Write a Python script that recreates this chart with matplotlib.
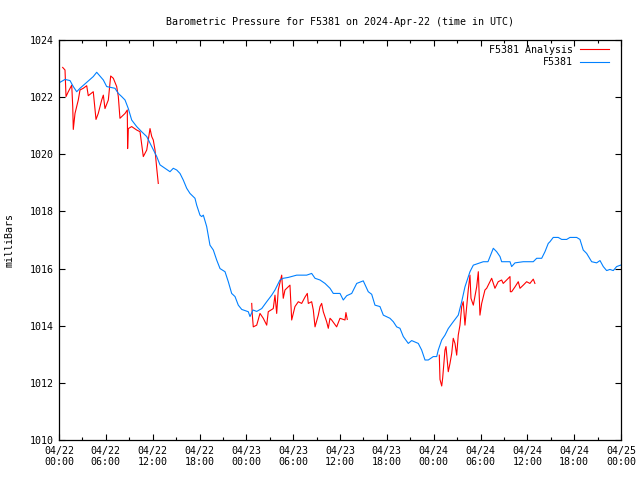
import matplotlib
matplotlib.use('Agg')
import matplotlib.pyplot as plt
import matplotlib.dates as mdates
import pandas as pd

# Start of the chart window (UTC)
t0 = pd.Timestamp('2024-04-22 00:00')

# F5381 station readings: hours since t0, pressure (mb)
station_hours = [0.13, 0.77, 1.41, 1.83, 2.27, 2.69, 3.55, 4.39, 4.83, 5.68, 6.11, 7.17, 7.6, 8.03,
                 8.46, 8.88, 9.31, 9.95, 10.59, 11.24, 11.88, 12.52, 12.94, 13.58, 14.22, 14.64,
                 15.08, 15.5, 15.92, 16.36, 16.78, 17.42, 17.64, 18.06, 18.28, 18.49, 18.92, 19.34,
                 19.77, 20.2, 20.63, 21.27, 21.69, 22.12, 22.55, 22.97, 23.41, 24.25, 24.47, 24.85,
                 25.33, 25.97, 26.61, 27.25, 27.67, 28.31, 28.73, 29.37, 30.45, 31.73, 32.37, 32.8,
                 33.44, 34.08, 34.72, 35.14, 36.0, 36.42, 36.86, 37.5, 38.14, 38.98, 39.62, 40.06,
                 40.48, 41.12, 41.55, 42.4, 42.83, 43.26, 43.68, 44.11, 44.75, 45.18, 46.03, 46.46,
                 46.89, 47.31, 47.95, 48.39, 48.59, 49.03, 49.45, 49.87, 50.51, 51.15, 51.59, 52.01,
                 52.65, 53.08, 53.72, 54.36, 54.96, 55.64, 56.07, 56.5, 56.71, 57.78, 57.99, 58.42,
                 59.48, 60.76, 61.2, 61.84, 62.26, 62.68, 62.9, 63.32, 63.96, 64.4, 65.04, 65.46,
                 66.32, 66.74, 67.16, 67.6, 68.24, 68.88, 69.31, 69.73, 70.16, 70.58, 71.01, 71.44,
                 71.95]
station_mb = [1022.52, 1022.62, 1022.58, 1022.37, 1022.19, 1022.31, 1022.52, 1022.72, 1022.87,
              1022.6, 1022.37, 1022.31, 1022.13, 1022.02, 1021.9, 1021.6, 1021.2, 1020.97, 1020.79,
              1020.62, 1020.27, 1019.92, 1019.63, 1019.51, 1019.39, 1019.51, 1019.45, 1019.33,
              1019.1, 1018.81, 1018.63, 1018.46, 1018.22, 1017.87, 1017.82, 1017.87, 1017.47,
              1016.82, 1016.65, 1016.3, 1016.0, 1015.89, 1015.54, 1015.13, 1015.02, 1014.72,
              1014.57, 1014.49, 1014.32, 1014.55, 1014.5, 1014.6, 1014.84, 1015.07, 1015.25,
              1015.6, 1015.66, 1015.69, 1015.77, 1015.77, 1015.83, 1015.66, 1015.6, 1015.48,
              1015.31, 1015.13, 1015.13, 1014.9, 1015.05, 1015.13, 1015.48, 1015.57, 1015.19,
              1015.1, 1014.72, 1014.67, 1014.37, 1014.26, 1014.14, 1013.96, 1013.91, 1013.62,
              1013.38, 1013.48, 1013.38, 1013.15, 1012.8, 1012.8, 1012.92, 1012.92, 1013.15,
              1013.5, 1013.67, 1013.9, 1014.14, 1014.37, 1014.84, 1015.36, 1015.89, 1016.12,
              1016.18, 1016.24, 1016.24, 1016.71, 1016.59, 1016.42, 1016.24, 1016.24, 1016.07,
              1016.2, 1016.24, 1016.24, 1016.36, 1016.36, 1016.59, 1016.88, 1016.94, 1017.09,
              1017.09, 1017.02, 1017.02, 1017.09, 1017.09, 1017.02, 1016.65, 1016.53, 1016.24,
              1016.2, 1016.28, 1016.07, 1015.93, 1015.97, 1015.93, 1016.07, 1016.12]

# F5381 analysis, three separate runs
analysis1_hours = [0.47, 0.77, 0.9, 1.19, 1.63, 1.76, 1.83, 2.05, 2.47, 2.69, 3.11, 3.55, 3.75, 4.39,
                   4.74, 5.03, 5.47, 5.68, 5.89, 6.32, 6.62, 6.96, 7.39, 7.6, 7.81, 8.46, 8.75, 8.79,
                   8.88, 9.31, 9.95, 10.38, 10.8, 11.24, 11.66, 11.88, 12.08, 12.3, 12.52, 12.72]
analysis1_mb = [1023.04, 1022.95, 1022.02, 1022.19, 1022.42, 1021.67, 1020.87, 1021.43, 1021.9,
                1022.25, 1022.31, 1022.4, 1022.05, 1022.19, 1021.22, 1021.43, 1021.9, 1022.07,
                1021.6, 1021.9, 1022.74, 1022.66, 1022.37, 1022.02, 1021.26, 1021.43, 1021.55,
                1020.2, 1020.9, 1020.97, 1020.85, 1020.79, 1019.92, 1020.15, 1020.9, 1020.62,
                1020.5, 1020.15, 1019.51, 1018.98]

analysis2_hours = [24.69, 24.76, 24.89, 25.33, 25.75, 26.17, 26.61, 26.81, 27.45, 27.67, 27.89, 28.09,
                   28.53, 28.73, 28.95, 29.59, 29.81, 30.23, 30.66, 31.09, 31.51, 31.81, 31.94, 32.37,
                   32.58, 32.8, 33.22, 33.44, 33.65, 33.86, 34.29, 34.5, 34.72, 34.93, 35.57, 36.0,
                   36.64, 36.76, 36.93]
analysis2_mb = [1014.78, 1014.4, 1013.96, 1014.02, 1014.43, 1014.26, 1014.02, 1014.49, 1014.6,
                1015.07, 1014.43, 1015.25, 1015.77, 1014.96, 1015.25, 1015.42, 1014.2, 1014.67,
                1014.84, 1014.78, 1015.0, 1015.13, 1014.78, 1014.84, 1014.55, 1013.96, 1014.37,
                1014.67, 1014.78, 1014.49, 1014.14, 1013.91, 1014.26, 1014.2, 1013.96, 1014.26,
                1014.2, 1014.46, 1014.22]

analysis3_hours = [48.72, 48.81, 49.03, 49.15, 49.45, 49.58, 49.87, 50.09, 50.31, 50.51, 50.73, 50.95,
                   51.15, 51.37, 51.59, 51.79, 52.01, 52.23, 52.43, 52.65, 52.78, 53.08, 53.51, 53.72,
                   53.93, 54.15, 54.57, 54.79, 55.21, 55.43, 55.85, 56.27, 56.71, 56.91, 57.35, 57.78,
                   57.82, 57.99, 58.42, 58.84, 59.06, 59.48, 59.91, 60.33, 60.76, 60.97]
analysis3_mb = [1012.97, 1012.12, 1011.89, 1012.16, 1013.15, 1013.27, 1012.39, 1012.68, 1013.03,
                1013.56, 1013.38, 1012.97, 1013.67, 1014.02, 1014.67, 1014.84, 1014.02, 1014.67,
                1015.25, 1015.77, 1014.96, 1014.72, 1015.36, 1015.89, 1014.37, 1014.78, 1015.25,
                1015.31, 1015.54, 1015.66, 1015.31, 1015.54, 1015.6, 1015.48, 1015.6, 1015.72,
                1015.19, 1015.19, 1015.36, 1015.54, 1015.31, 1015.42, 1015.54, 1015.48, 1015.63,
                1015.48]


def to_times(hours):
    return t0 + pd.to_timedelta(hours, unit='h')


plt.rcParams['font.family'] = 'DejaVu Sans Mono'
plt.rcParams['font.size'] = 7.2

fig = plt.figure(figsize=(6.4, 4.8), dpi=100)
ax = fig.add_axes([59 / 640, 40 / 480, 562 / 640, 400 / 480])

red = '#ff0000'
blue = '#0080ff'
ax.plot(to_times(analysis1_hours), analysis1_mb, color=red, lw=0.8, label='F5381 Analysis')
ax.plot(to_times(analysis2_hours), analysis2_mb, color=red, lw=0.8)
ax.plot(to_times(analysis3_hours), analysis3_mb, color=red, lw=0.8)
ax.plot(to_times(station_hours), station_mb, color=blue, lw=0.8, label='F5381')

ax.set_xlim(t0, t0 + pd.Timedelta(hours=72))
ax.set_ylim(1010, 1024)
ax.set_yticks(range(1010, 1025, 2))

ax.xaxis.set_major_locator(mdates.HourLocator(byhour=[0, 6, 12, 18]))
ax.xaxis.set_minor_locator(mdates.HourLocator(byhour=[3, 9, 15, 21]))
ax.xaxis.set_major_formatter(mdates.DateFormatter('%m/%d\n%H:%M'))

ax.tick_params(which='both', direction='in', top=True, right=True, width=0.8)
ax.tick_params(which='major', length=4.5, pad=4)
ax.tick_params(which='minor', length=2.5)
for s in ax.spines.values():
    s.set_linewidth(0.9)

ax.set_ylabel('milliBars', labelpad=11)
ax.set_title('Barometric Pressure for F5381 on 2024-Apr-22 (time in UTC)', fontsize=7.2, pad=11)

ax.legend(loc='upper right', bbox_to_anchor=(1, 1.0175), frameon=False, markerfirst=False,
          handlelength=2.9, handletextpad=0.7, labelspacing=0.25, borderaxespad=0.8)

fig.savefig('out.png', dpi=100)
